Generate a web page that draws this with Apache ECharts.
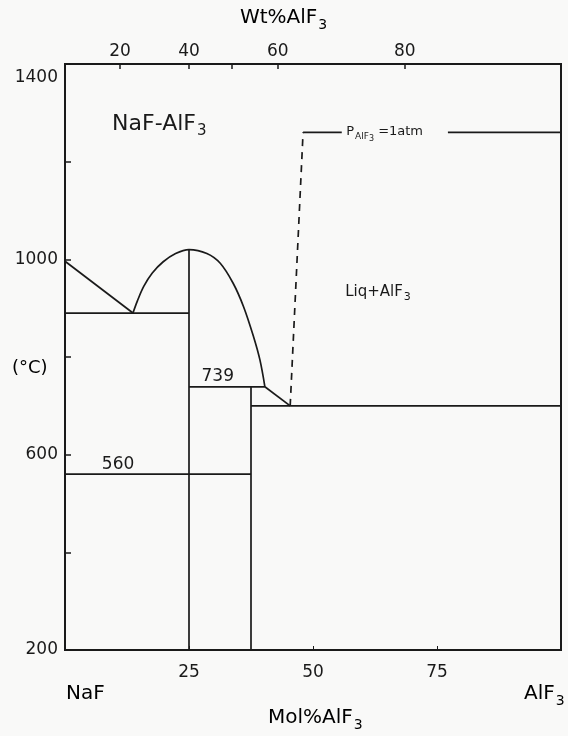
<!DOCTYPE html>
<html><head><meta charset="utf-8">
<script src="https://cdn.jsdelivr.net/npm/echarts@6/dist/echarts.min.js"></script>
<style>html,body{margin:0;padding:0;background:#f9f9f8}#c{width:568px;height:736px}</style>
</head><body><div id="c"></div>
<script>
const FONT = 'DejaVu Sans';
const INK = '#1a1a1a';

// axis ticks / labels
const yLabelValues = [200, 600, 1000, 1400];
const molLabelValues = [25, 50, 75];
const wtLabels = [20, 40, 60, 80];
const wtLabelMol = [11.1, 25.0, 42.9, 68.5];
const wtTickMol = [11.1, 25.0, 33.7, 42.9, 68.5];

// phase boundaries: [mol% AlF3, °C]
const naFLiquidus = [[0, 996], [13.7, 890]];
const cryoliteLiquidus = [[13.7, 890], [14.6, 915], [15.9, 945], [17.6, 972], [19.8, 995], [22.3, 1012], [25, 1020],
  [28.6, 1012], [31.3, 992], [33.9, 951], [36.0, 903], [38.0, 842], [39.3, 794], [40.3, 739]];
const eutectic1 = [[0, 890], [25, 890]];
const cryoliteLine = [[25, 1020], [25, 200]];
const peritectic = [[25, 739], [40.3, 739]];
const chioliteLiquidus = [[40.3, 739], [45.4, 700]];
const eutectic2 = [[37.5, 700], [100, 700]];
const chioliteLine = [[37.5, 739], [37.5, 200]];
const solidTransition = [[0, 560], [37.5, 560]];
const vaporBoundary = [[45.4, 700], [48, 1260]];
const sublimationA = [[48, 1260], [55.8, 1260]];
const sublimationB = [[77.2, 1260], [100, 1260]];

// in-plot annotations: [mol%, °C, text, align]
const annotations = [
  [9.5, 1276, '{b|NaF-AlF}{bs|3}', 'left'],
  [56.7, 1262, '{m|P}{ms|AlF}{mss|3}{m| =1atm}', 'left'],
  [63.1, 933, '{l|Liq+AlF}{ls|3}', 'center'],
  [30.8, 759, '{n|739}', 'center'],
  [10.7, 579, '{n|560}', 'center']
];

const rich = {
  b: {fontFamily: FONT, fontSize: 22, color: INK},
  bs: {fontFamily: FONT, fontSize: 15, color: INK, padding: [14, 0, 0, 1]},
  m: {fontFamily: FONT, fontSize: 13, color: INK},
  ms: {fontFamily: FONT, fontSize: 9, color: INK, padding: [11, 0, 0, 1]},
  mss: {fontFamily: FONT, fontSize: 8, color: INK, padding: [15, 0, 0, 0]},
  l: {fontFamily: FONT, fontSize: 15, color: INK},
  ls: {fontFamily: FONT, fontSize: 11, color: INK, padding: [10, 0, 0, 1]},
  n: {fontFamily: FONT, fontSize: 17, color: INK},
  t: {fontFamily: FONT, fontSize: 17, color: INK, padding: [28, 0, 0, 0]},
  c: {fontFamily: FONT, fontSize: 18, color: INK},
  a: {fontFamily: FONT, fontSize: 20, color: INK},
  as: {fontFamily: FONT, fontSize: 14, color: INK, padding: [14, 0, 0, 1]}
};

const solidLines = [naFLiquidus, eutectic1, cryoliteLine, peritectic, chioliteLiquidus,
  eutectic2, chioliteLine, solidTransition, sublimationA, sublimationB];

const series = solidLines.map(d => ({
  type: 'line', data: d, showSymbol: false, silent: true, animation: false,
  lineStyle: {color: INK, width: 1.7}
}));
series.push({
  type: 'line', data: cryoliteLiquidus, showSymbol: false, smooth: 0.35, animation: false,
  lineStyle: {color: INK, width: 1.7}
});
series.push({
  type: 'line', data: vaporBoundary, showSymbol: false, animation: false,
  lineStyle: {color: INK, width: 1.7, type: [7, 6]}
});
series.push({
  type: 'scatter', symbolSize: 0, animation: false, clip: false, silent: true,
  itemStyle: {color: INK},
  data: annotations.map(a => ({
    value: [a[0], a[1]],
    label: {show: true, position: 'inside', align: a[3], verticalAlign: 'middle',
      color: INK, textBorderWidth: 0, opacity: 1,
      formatter: a[2], rich: rich}
  }))
});

const chart = echarts.init(document.getElementById('c'));
chart.setOption({
  backgroundColor: '#f9f9f8',
  animation: false,
  grid: {left: 65, right: 7, top: 64, bottom: 86, show: true, borderColor: INK, borderWidth: 2,
    backgroundColor: 'transparent', containLabel: false, outerBoundsMode: 'none'},
  xAxis: [{
    type: 'value', min: 0, max: 100, interval: 25, position: 'bottom',
    axisLine: {show: true, lineStyle: {color: INK, width: 2}},
    axisTick: {show: true, inside: true, length: 4, lineStyle: {color: INK}},
    splitLine: {show: false},
    axisLabel: {margin: 14, fontFamily: FONT, fontSize: 17, color: INK,
      formatter: v => molLabelValues.includes(v) ? String(v) : ''}
  }, {
    type: 'value', min: 0, max: 100, position: 'top',
    axisLine: {show: true, lineStyle: {color: INK, width: 2}},
    axisTick: {show: true, inside: true, length: 5, customValues: wtTickMol, lineStyle: {color: INK, width: 1.5}},
    splitLine: {show: false},
    axisLabel: {margin: 4, fontFamily: FONT, fontSize: 17, color: INK, customValues: wtLabelMol,
      formatter: v => {
        const i = wtLabelMol.findIndex(m => Math.abs(m - v) < 0.01);
        return i >= 0 ? String(wtLabels[i]) : '';
      }}
  }],
  yAxis: [{
    type: 'value', min: 200, max: 1400, interval: 200,
    axisLine: {show: true, lineStyle: {color: INK, width: 2}},
    axisTick: {show: true, inside: true, length: 6, lineStyle: {color: INK, width: 1.5}},
    splitLine: {show: false},
    axisLabel: {margin: 7, fontFamily: FONT, fontSize: 17, color: INK, rich: rich,
      formatter: v => v === 1400 ? '{t|1400}' : (yLabelValues.includes(v) ? String(v) : '')}
  }],
  graphic: [
    {type: 'text', left: 240, top: 8, style: {text: '{a|Wt%AlF}{as|3}', rich: rich}},
    {type: 'text', left: 268, top: 708, style: {text: '{a|Mol%AlF}{as|3}', rich: rich}},
    {type: 'text', left: 66, top: 684, style: {text: '{a|NaF}', rich: rich}},
    {type: 'text', left: 524, top: 684, style: {text: '{a|AlF}{as|3}', rich: rich}},
    {type: 'text', left: 12, top: 359, style: {text: '{c|(°C)}', rich: rich}}
  ],
  series: series
});
</script>
</body></html>
